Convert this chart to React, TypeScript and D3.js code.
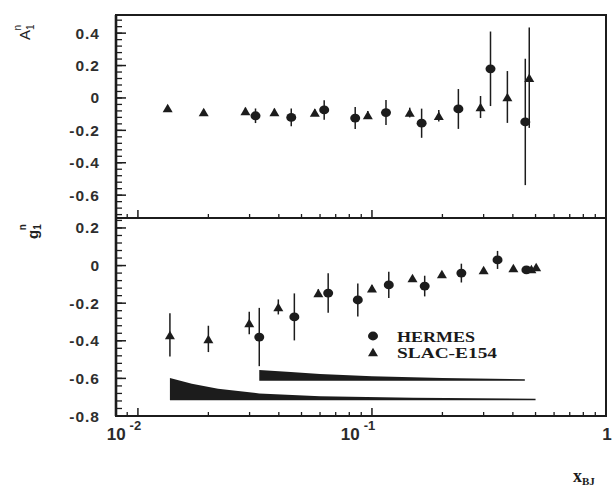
import React from "react";
import * as d3 from "d3";

// ---- Data ----
// Top panel: A1^n
const topHermesX = [0.0318, 0.0452, 0.0625, 0.0848, 0.1148, 0.163, 0.234, 0.321, 0.452];
const topHermesY = [-0.11, -0.12, -0.074, -0.124, -0.09, -0.156, -0.068, 0.18, -0.148];
const topHermesErr = [0.045, 0.055, 0.06, 0.068, 0.077, 0.09, 0.123, 0.23, 0.39];

const topSlacX = [0.0134, 0.0191, 0.0288, 0.0383, 0.057, 0.096, 0.145, 0.193, 0.291, 0.379, 0.47];
const topSlacY = [-0.062, -0.086, -0.08, -0.086, -0.09, -0.105, -0.09, -0.11, -0.056, 0.006, 0.125];
const topSlacErr = [0.015, 0.015, 0.02, 0.02, 0.02, 0.025, 0.03, 0.035, 0.068, 0.16, 0.31];

// Bottom panel: g1^n
const botHermesX = [0.033, 0.0466, 0.065, 0.087, 0.118, 0.168, 0.241, 0.344, 0.457];
const botHermesY = [-0.38, -0.273, -0.146, -0.183, -0.103, -0.109, -0.04, 0.03, -0.023];
const botHermesErr = [0.155, 0.125, 0.105, 0.088, 0.07, 0.055, 0.05, 0.048, 0.02];

const botSlacX = [0.0137, 0.02, 0.0299, 0.0398, 0.059, 0.1, 0.149, 0.199, 0.3, 0.402, 0.48, 0.503];
const botSlacY = [-0.369, -0.39, -0.305, -0.22, -0.146, -0.12, -0.066, -0.045, -0.023, -0.013, -0.018, -0.007];
const botSlacErr = [0.115, 0.07, 0.06, 0.04, 0.02, 0.015, 0.01, 0.01, 0.01, 0.01, 0.01, 0.01];

// Systematic error bands (bottom panel)
const slacBandX = [0.0137, 0.017, 0.022, 0.033, 0.06, 0.15, 0.5];
const slacBandUpper = [-0.598, -0.628, -0.655, -0.68, -0.695, -0.703, -0.708];
const slacBandLower = [-0.716, -0.716, -0.716, -0.716, -0.716, -0.716, -0.716];

const hermesBandX = [0.033, 0.045, 0.06, 0.1, 0.2, 0.45];
const hermesBandUpper = [-0.555, -0.566, -0.576, -0.588, -0.598, -0.604];
const hermesBandLower = [-0.613, -0.613, -0.613, -0.613, -0.613, -0.613];

const topYTicks = [0.4, 0.2, 0, -0.2, -0.4, -0.6];
const botYTicks = [0.2, 0, -0.2, -0.4, -0.6, -0.8];
const xMajorTicks = [0.01, 0.1, 1];
const xTickExponents = ["-2", "-1", ""];
const legendLabels = ["HERMES", "SLAC-E154"];

// ---- Layout ----
const W = 612, H = 487;
const L = 116, R = 606, T = 15, MID = 218, B = 416;
const INK = "#1c1c1c";

const x = d3.scaleLog().domain([0.00806, 1.0]).range([L, R]);
const yTop = d3.scaleLinear().domain([-0.741, 0.512]).range([MID, T]);
const yBot = d3.scaleLinear().domain([-0.8, 0.253]).range([B, MID]);

const xMinor: number[] = [];
[0.001, 0.01, 0.1].forEach((base) => {
  for (let k = 2; k <= 9; k++) {
    const v = base * k;
    if (v >= x.domain()[0] && v <= 1) xMinor.push(v);
  }
});

function minorY(scale: d3.ScaleLinear<number, number>) {
  const out: number[] = [];
  const [lo, hi] = scale.domain();
  for (let k = Math.ceil(lo / 0.04 - 1e-6); k * 0.04 <= hi + 1e-9; k++) out.push(+(k * 0.04).toFixed(3));
  return out;
}

function Triangle({ cx, cy }: { cx: number; cy: number }) {
  const w = 10, h = 8.5;
  return (
    <path
      d={`M${cx - w / 2},${cy + h / 2} L${cx + w / 2},${cy + h / 2} L${cx},${cy - h / 2} Z`}
      fill={INK}
    />
  );
}

function Circle({ cx, cy }: { cx: number; cy: number }) {
  return <ellipse cx={cx} cy={cy} rx={5} ry={4.4} fill={INK} />;
}

function Series({
  xs, ys, errs, yScale, kind,
}: {
  xs: number[]; ys: number[]; errs: number[];
  yScale: d3.ScaleLinear<number, number>; kind: "c" | "t";
}) {
  return (
    <g>
      {xs.map((xv, i) => (
        <line key={"e" + i} x1={x(xv)} x2={x(xv)} y1={yScale(ys[i] + errs[i])} y2={yScale(ys[i] - errs[i])}
          stroke={INK} strokeWidth={1.5} />
      ))}
      {xs.map((xv, i) =>
        kind === "c" ? <Circle key={i} cx={x(xv)} cy={yScale(ys[i])} /> : <Triangle key={i} cx={x(xv)} cy={yScale(ys[i])} />
      )}
    </g>
  );
}

function Band({ xs, up, lo }: { xs: number[]; up: number[]; lo: number[] }) {
  const pts = xs.map((xv, i) => ({ xv, u: up[i], l: lo[i] }));
  const area = d3
    .area<{ xv: number; u: number; l: number }>()
    .x((d) => x(d.xv))
    .y0((d) => yBot(d.l))
    .y1((d) => yBot(d.u));
  return <path d={area(pts) || ""} fill={INK} />;
}

function YAxis({ scale, ticks }: { scale: d3.ScaleLinear<number, number>; ticks: number[] }) {
  return (
    <g>
      {minorY(scale).map((v, i) => (
        <line key={"m" + i} x1={L} x2={L + 6} y1={scale(v)} y2={scale(v)} stroke={INK} strokeWidth={1.3} />
      ))}
      {ticks.map((v, i) => (
        <g key={i}>
          <line x1={L} x2={L + 10} y1={scale(v)} y2={scale(v)} stroke={INK} strokeWidth={1.5} />
          <text x={100} y={scale(v) + 5.5} textAnchor="end" fontSize={15.5} fontWeight={700}
            letterSpacing={1} fontFamily="'Liberation Sans', Arial, sans-serif" fill="#2e2e2e">
            {v === 0 ? "0" : d3.format(".1f")(v).replace("−", "-")}
          </text>
        </g>
      ))}
    </g>
  );
}

function XTicks({ yBase }: { yBase: number }) {
  return (
    <g>
      {xMinor.map((v, i) => (
        <line key={"m" + i} x1={x(v)} x2={x(v)} y1={yBase} y2={yBase - 4} stroke={INK} strokeWidth={1.3} />
      ))}
      {xMajorTicks.map((v, i) => (
        <line key={i} x1={x(v)} x2={x(v)} y1={yBase} y2={yBase - 8} stroke={INK} strokeWidth={1.5} />
      ))}
    </g>
  );
}

export default function App() {
  const serif = "'Liberation Serif', 'Times New Roman', serif";
  const sans = "'Liberation Sans', Arial, sans-serif";
  return (
    <svg width={W} height={H} style={{ position: "absolute", left: 0, top: 0, background: "#fff" }}>
      <rect x={0} y={0} width={W} height={H} fill="#fff" />

      {/* bands */}
      <Band xs={slacBandX} up={slacBandUpper} lo={slacBandLower} />
      <Band xs={hermesBandX} up={hermesBandUpper} lo={hermesBandLower} />

      {/* data */}
      <Series xs={topSlacX} ys={topSlacY} errs={topSlacErr} yScale={yTop} kind="t" />
      <Series xs={topHermesX} ys={topHermesY} errs={topHermesErr} yScale={yTop} kind="c" />
      <Series xs={botSlacX} ys={botSlacY} errs={botSlacErr} yScale={yBot} kind="t" />
      <Series xs={botHermesX} ys={botHermesY} errs={botHermesErr} yScale={yBot} kind="c" />

      {/* frame */}
      <rect x={L} y={T} width={R - L} height={B - T} fill="none" stroke={INK} strokeWidth={2} />
      <line x1={L} x2={R} y1={MID} y2={MID} stroke={INK} strokeWidth={2} />
      <line x1={L} x2={L} y1={T} y2={B} stroke={INK} strokeWidth={2.6} />

      <YAxis scale={yTop} ticks={topYTicks} />
      <YAxis scale={yBot} ticks={botYTicks} />
      <XTicks yBase={MID} />
      <XTicks yBase={B} />

      {/* x tick labels */}
      {xMajorTicks.map((v, i) => (
        <text key={i} x={x(v) + (xTickExponents[i] ? -14 : 1)} y={440} fontSize={17} fontWeight={700}
          fontFamily={sans} fill="#2a2a2a" textAnchor="middle">
          {xTickExponents[i] ? "10" : "1"}
          {xTickExponents[i] && (
            <tspan dx={4} dy={-10} fontSize={13}>{xTickExponents[i]}</tspan>
          )}
        </text>
      ))}

      {/* axis titles */}
      <text x={573} y={482} fontSize={18} fontWeight={700} fontFamily={serif} fill="#1a1a1a">
        x<tspan fontSize={11} dy={3}>BJ</tspan>
      </text>
      <text transform="translate(30,40) rotate(-90)" fontSize={15} fontFamily={sans} fill="#222">
        A<tspan fontSize={10} dy={4}>1</tspan>
        <tspan fontSize={10} dx={-6} dy={-13}>n</tspan>
      </text>
      <text transform="translate(38,239) rotate(-90)" fontSize={15} fontWeight={700} fontFamily={sans} fill="#222">
        g<tspan fontSize={10} dy={3}>1</tspan>
        <tspan fontSize={10} dx={-6} dy={-15}>n</tspan>
      </text>

      {/* legend */}
      <Circle cx={373} cy={336} />
      <Triangle cx={373} cy={352} />
      <text x={397} y={342} fontSize={15} fontWeight={700} fontFamily={serif} fill="#1a1a1a"
        textLength={78} lengthAdjust="spacingAndGlyphs">{legendLabels[0]}</text>
      <text x={397} y={358} fontSize={15} fontWeight={700} fontFamily={serif} fill="#1a1a1a"
        textLength={100} lengthAdjust="spacingAndGlyphs">{legendLabels[1]}</text>
    </svg>
  );
}
